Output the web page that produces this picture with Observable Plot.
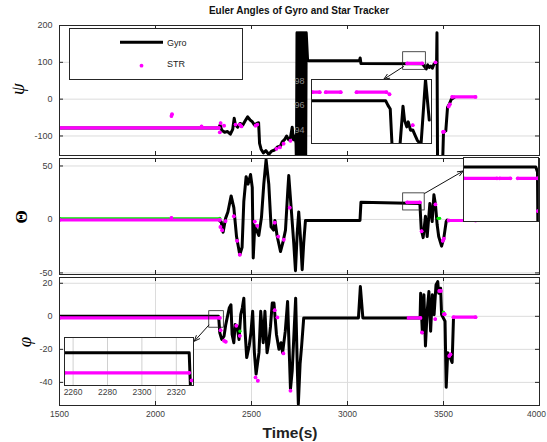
<!DOCTYPE html>
<html><head><meta charset="utf-8">
<script src="https://cdn.jsdelivr.net/npm/d3@7"></script>
<script src="https://cdn.jsdelivr.net/npm/@observablehq/plot@0.6"></script>
<style>
body{margin:0;background:#fff;}
#root{position:relative;width:547px;height:442px;overflow:hidden;font-family:"Liberation Sans",Arial,sans-serif;background:#fff;}
.ylab{position:absolute;transform:translate(-50%,-50%) rotate(-90deg);white-space:nowrap;color:#000;}
</style></head><body><div id="root"></div>
<script>
// ---------- axes ticks ----------
const xTicks = [1500, 2000, 2500, 3000, 3500, 4000];
const psiTicks = [200, 100, 0, -100];
const thetaTicks = [50, 0, -50];
const phiTicks = [20, 0, -20, -40];
const psiInsetTicks = [98, 96, 94];
const phiInsetTicks = [2260, 2280, 2300, 2320];

// ---------- psi (yaw) ----------
const psiGyroT = [1500, 2330, 2336, 2345, 2360, 2375, 2390, 2402, 2410, 2416, 2428, 2440, 2455, 2468, 2480, 2492, 2505, 2515, 2527, 2537, 2542, 2550, 2562, 2575, 2590, 2605, 2620, 2635, 2650, 2660, 2672, 2683, 2693, 2703, 2712, 2718, 2726, 2732,
  2734, 2737, 2740, 2743, 2746, 2749, 2752, 2755, 2758, 2761, 2764, 2767, 2770, 2773, 2776, 2779, 2782, 2785,
  2792, 2800, 3062, 3066, 3070, 3390, 3396, 3402, 3410, 3418, 3426, 3434, 3442, 3450, 3458, 3464, 3466, 3469, 3495, 3500, 3512, 3521, 3530, 3540, 3557];
const psiGyroV = [-78, -78, -70, -84, -90, -88, -95, -82, -52, -70, -76, -66, -70, -58, -48, -56, -62, -70, -66, -64, -120, -136, -146, -140, -150, -141, -138, -130, -128, -116, -110, -100, -110, -104, -76, -110, -100, -120,
  -180, 180, -180, 180, -180, 180, -180, 180, -180, 180, -180, 180, -180, 180, -180, 180, -180, 180,
  106, 104, 104, 112, 97, 96, 92, 88, 82, 93, 86, 90, 84, 95, 98, 100, 180, -180, -180, -90, -86, -22, -14, -1, 5];
const psiStrT = [1500, 2330, 2083, 2086, 2240, 2335, 2339, 2357, 2417, 2439, 2448, 2521, 2530, 2630, 2648, 2667, 2703, 3311, 3389, 3458, 3498, 3502, 3527, 3533, 3545, 3667];
const psiStrV = [-78, -78, -46, -41, -74, -90, -65, -72, -69, -69, -74, -72, -69, -135, -131, -121, -113, 97, 97, 100, -89, -88, -20, -14, 6, 6];
const psiStrRun = [0, 0, 1, 2, 3, 4, 5, 6, 7, 8, 9, 10, 11, 12, 13, 14, 15, 16, 16, 17, 18, 19, 20, 21, 22, 22];

// ---------- theta (pitch) ----------
const thetaGyroT = [1500, 2330, 2335, 2342, 2352, 2365, 2377, 2394, 2408, 2422, 2439, 2451, 2460, 2472, 2482, 2495, 2504, 2509, 2517, 2538, 2552, 2564, 2576, 2590, 2602, 2615, 2622, 2633, 2651, 2663, 2677, 2689, 2694, 2707, 2720, 2729, 2738, 2746, 2755, 2764, 2772, 2781,
  3065, 3070, 3377, 3384, 3394, 3406, 3415, 3429, 3441, 3450, 3458, 3467, 3475, 3490, 3502, 3514, 3519];
const thetaGyroV = [0, 0, -1.5, -2, -12, 1, 7, 22, 11, -16, -33, -26, 17, 40, 33, 42, 30, -36, -6, -15, 2, 33, 56, 33, -7, -10, -1, -15, -30, -22, -10, 27, 41, 10, -22, -48, -13, 7, -17, -47, -22, -1,
  -1, 16, 15, -9, -17, 3, -16, 15, -2, 23, 14, -5, -16, -25, -17, -2, -0.5];
const thetaStrT = [1500, 2335, 2083, 2338, 2347, 2365, 2408, 2425, 2439, 2517, 2530, 2621, 2639, 2668, 2699, 3311, 3377, 3386, 3458, 3496, 3502, 3527, 3667];
const thetaStrV = [-0.5, -0.5, 1.5, -7, -10, -1.5, 3, -20, -33, -2, -6, -3, -16, -19, 11, 16, 16, -11, 14, -20, -18, -1, -1];
const thetaStrRun = [0, 0, 1, 2, 3, 4, 5, 6, 7, 8, 9, 10, 11, 12, 13, 14, 14, 15, 16, 17, 18, 19, 19];
const thetaGreenT = [1500, 2335, 3472, 3480];
const thetaGreenV = [1.1, 1.1, 1, 1];
const thetaGreenRun = [0, 0, 1, 1];

// ---------- phi (roll) ----------
const phiGyroT = [1500, 2328, 2330, 2335, 2345, 2357, 2366, 2384, 2393, 2399, 2408, 2415, 2425, 2435, 2444, 2452, 2460, 2466, 2475, 2488, 2497, 2506, 2515, 2524, 2539, 2548, 2561, 2570, 2581, 2590, 2599, 2608, 2617, 2630, 2643, 2654, 2662, 2676, 2688, 2695, 2703, 2712, 2721, 2730, 2739, 2744, 2753, 2761, 2772,
  3057, 3067, 3080, 3378, 3381, 3390, 3398, 3406, 3415, 3424, 3433, 3442, 3451, 3461, 3470, 3475, 3485, 3490, 3508, 3514, 3522, 3535, 3545, 3552];
const phiGyroV = [0, 0, -2, -10, -14, -12, -5, 5, 7, -11, -16, -5, -6, -14, 1, 5, 11, -8, -25, -18, -10, 3, -22, -35, -22, 3, -16, 3, -22, -16, -6, 8, 8, -11, -20, -16, -22, -9, 9, -16, -44, -33, -11, 11, -33, -53, -29, -18, -1,
  -1, 18, -1, -1, 14, -10, 13, -18, 3, 15, -9, 13, 1, 19, 21, 14, 17, 1, -3, -43, -22, -25, -28, -1];
const phiStrT = [1500, 2335, 2339, 2357, 2366, 2421, 2439, 2521, 2533, 2621, 2635, 2666, 2703, 3318, 3380, 3388, 3457, 3478, 3486, 3503, 3506, 3530, 3536, 3552, 3667];
const phiStrV = [-1, -1, -8.4, -14.8, -15.4, -5.7, -11.8, -37, -39, 3.7, -0.7, -22.5, -45, -1, -1, -9.8, -1.7, 15.4, 15.4, 1.3, 1.3, -24, -23, -0.5, -0.5];
const phiStrRun = [0, 0, 1, 2, 3, 4, 5, 6, 7, 8, 9, 10, 11, 12, 12, 13, 14, 15, 15, 16, 16, 17, 17, 18, 18];
const phiGreenT = [2440, 3500];
const phiGreenV = [-9, 2.5];
const phiGreenRun = [0, 1];

// ---------- zoom boxes & arrows (data units of the host panel) ----------
const psiBoxT = [3290, 3408], psiBoxV = [79.6, 127.4];
const thetaBoxT = [3290, 3402], thetaBoxV = [8.4, 24.4];
const phiBoxT = [2280, 2356], phiBoxV = [-6.9, 3.1];
const psiArrowT = [3292, 3189], psiArrowV = [88.6, 54];
const thetaArrowT = [3402, 3603], thetaArrowV = [24.4, 45.3];
const phiArrowT = [2278, 2202], phiArrowV = [-5.3, -15.1];

// ---------- insets ----------
const psiInGyroT = [3300, 3399, 3402, 3405, 3408, 3417, 3422, 3424, 3427, 3429, 3432, 3435, 3438, 3441, 3446, 3452, 3457];
const psiInGyroV = [96.37, 96.37, 96.0, 95.7, 92.0, 92.0, 95.93, 94.8, 94.25, 94.66, 93.98, 94.0, 93.58, 93.17, 92.8, 98.1, 94.8];
const psiInStrT = [3301, 3311, 3319, 3339, 3360, 3400, 3404, 3435];
const psiInStrV = [97.07, 97.07, 97.07, 97.07, 97.07, 97.07, 96.9, 94.39];
const psiInStrRun = [0, 0, 1, 1, 2, 2, 3, 4];

const thetaInGyroT = [3290, 3398, 3400.5, 3401];
const thetaInGyroV = [16.4, 16.4, 16.1, 13];
const thetaInStrT = [3290.5, 3340, 3344, 3360, 3371, 3400, 3401];
const thetaInStrV = [15.7, 15.7, 15.7, 15.7, 15.7, 15.7, 13.65];
const thetaInStrRun = [0, 0, 1, 1, 2, 2, 3];

const phiInGyroT = [2255, 2327.5, 2328.3];
const phiInGyroV = [0.36, 0.36, -1.2];
const phiInStrT = [2255, 2327.5, 2328.9];
const phiInStrV = [-0.47, -0.47, -0.79];
const phiInStrRun = [0, 0, 1];

// ---------- helpers ----------
const zip = (T, V, R) => T.map((t, i) => ({t, v: V[i], r: R ? R[i] : 0}));
const MAG = "#ff00ff", GRN = "#00ee00", AX = "#262626", TXT = "#404040";
const fmt = d => String(d);
const FW = 480; // frame width in px (547 - 59 - 8)
const root = document.getElementById("root");
function place(el, left, top) {
  el.style.position = "absolute"; el.style.left = left + "px"; el.style.top = top + "px";
  root.appendChild(el);
}
function seriesMarks(gyro, str, green) {
  const m = [Plot.line(gyro, {x: "t", y: "v", stroke: "black", strokeWidth: 3, clip: true})];
  if (green) m.push(Plot.line(green, {x: "t", y: "v", z: "r", stroke: GRN, strokeWidth: 2, clip: true}),
                    Plot.dot(green, {x: "t", y: "v", r: 1.6, fill: GRN, clip: true}));
  m.push(Plot.line(str, {x: "t", y: "v", z: "r", stroke: MAG, strokeWidth: 3.2, clip: true}),
         Plot.dot(str, {x: "t", y: "v", r: 1.9, fill: MAG, clip: true}));
  return m;
}
function innerTicks(yTicks, frameH) {
  return [
    Plot.tickY(yTicks, {y: d => d, stroke: AX, insetRight: FW - 4}),
    Plot.tickY(yTicks, {y: d => d, stroke: AX, insetLeft: FW - 4}),
    Plot.tickX(xTicks, {x: d => d, stroke: AX, insetTop: frameH - 4}),
    Plot.tickX(xTicks, {x: d => d, stroke: AX, insetBottom: frameH - 4})
  ];
}
function mainPanel({top, frameH, yDomain, yTicks, gridX, gyro, str, green, boxT, boxV, arT, arV, xAxis}) {
  const mb = xAxis ? 30 : 1;
  const marks = [Plot.gridY(yTicks, {stroke: "#dcdcdc", strokeOpacity: 1})];
  if (gridX) marks.push(Plot.gridX(xTicks, {stroke: "#dcdcdc", strokeOpacity: 1}));
  marks.push(...innerTicks(yTicks, frameH));
  marks.push(...seriesMarks(gyro, str, green));
  marks.push(Plot.rect([0], {x1: () => boxT[0], x2: () => boxT[1], y1: () => boxV[0], y2: () => boxV[1], fill: "none", stroke: "#222", strokeWidth: 0.8}));
  marks.push(Plot.arrow([0], {x1: () => arT[0], y1: () => arV[0], x2: () => arT[1], y2: () => arV[1], stroke: "#111", strokeWidth: 1, headLength: 9, headAngle: 45}));
  marks.push(Plot.frame({stroke: AX, strokeWidth: 1}));
  marks.push(Plot.axisY(yTicks, {tickSize: 0, tickPadding: 7, fontSize: 9, fill: TXT, label: null, tickFormat: fmt}));
  if (xAxis) {
    const inner = xTicks.slice(0, -1), last = xTicks.slice(-1);
    marks.push(Plot.axisX(inner, {anchor: "bottom", tickSize: 0, tickPadding: 5, fontSize: 8.5, fill: TXT, label: null, tickFormat: fmt}));
    marks.push(Plot.axisX(last, {anchor: "bottom", tickSize: 0, tickPadding: 5, fontSize: 8.5, fill: TXT, label: null, tickFormat: fmt, dx: -3}));
  }
  const svg = Plot.plot({
    width: 547, height: frameH + 1 + mb, marginLeft: 59, marginRight: 8, marginTop: 1, marginBottom: mb,
    x: {domain: [1500, 4000], axis: null}, y: {domain: yDomain, axis: null},
    style: {overflow: "visible", fontFamily: "Liberation Sans, Arial, sans-serif", background: "transparent"},
    marks
  });
  place(svg, 0, top - 1);
}

// ---------- main panels ----------
mainPanel({top: 25, frameH: 130, yDomain: [-153, 200], yTicks: psiTicks, gridX: false,
  gyro: zip(psiGyroT, psiGyroV), str: zip(psiStrT, psiStrV, psiStrRun),
  boxT: psiBoxT, boxV: psiBoxV, arT: psiArrowT, arV: psiArrowV});
mainPanel({top: 158, frameH: 116, yDomain: [-51.5, 57], yTicks: thetaTicks, gridX: false,
  gyro: zip(thetaGyroT, thetaGyroV), str: zip(thetaStrT, thetaStrV, thetaStrRun), green: zip(thetaGreenT, thetaGreenV, thetaGreenRun),
  boxT: thetaBoxT, boxV: thetaBoxV, arT: thetaArrowT, arV: thetaArrowV});
mainPanel({top: 277, frameH: 128, yDomain: [-54, 23.5], yTicks: phiTicks, gridX: true,
  gyro: zip(phiGyroT, phiGyroV), str: zip(phiStrT, phiStrV, phiStrRun), green: zip(phiGreenT, phiGreenV, phiGreenRun),
  boxT: phiBoxT, boxV: phiBoxV, arT: phiArrowT, arV: phiArrowV, xAxis: true});

// ---------- insets ----------
function inset({left, top, w, h, ml, xDomain, yDomain, gyro, str, yTicks, xTicksIn}) {
  const marks = [Plot.frame({fill: "white", stroke: "none"})];
  if (xTicksIn) marks.push(Plot.gridX(xTicksIn, {stroke: "#d0d0d0", strokeOpacity: 1}));
  marks.push(...seriesMarks(gyro, str));
  marks.push(Plot.frame({stroke: AX, strokeWidth: 1}));
  if (yTicks) marks.push(Plot.axisY(yTicks, {tickSize: 0, tickPadding: 7, fontSize: 9, fill: "#8a8a8a", label: null, tickFormat: fmt}));
  if (xTicksIn) marks.push(Plot.axisX(xTicksIn, {anchor: "bottom", tickSize: 0, tickPadding: 3, fontSize: 8.5, fill: TXT, label: null, tickFormat: fmt}));
  const svg = Plot.plot({
    width: w + ml + 1, height: h + 2, marginLeft: ml, marginRight: 1, marginTop: 1, marginBottom: 1,
    x: {domain: xDomain, axis: null}, y: {domain: yDomain, axis: null},
    style: {overflow: "visible", fontFamily: "Liberation Sans, Arial, sans-serif", background: "transparent"},
    marks
  });
  place(svg, left - ml, top - 1);
}
inset({left: 311, top: 79, w: 120, h: 64, ml: 16, xDomain: [3300, 3460], yDomain: [92.9, 98.1],
  gyro: zip(psiInGyroT, psiInGyroV), str: zip(psiInStrT, psiInStrV, psiInStrRun), yTicks: psiInsetTicks});
inset({left: 463, top: 157, w: 75, h: 64, ml: 1, xDomain: [3290, 3402], yDomain: [13, 17],
  gyro: zip(thetaInGyroT, thetaInGyroV), str: zip(thetaInStrT, thetaInStrV, thetaInStrRun)});
inset({left: 64, top: 337, w: 129, h: 48, ml: 1, xDomain: [2255, 2330], yDomain: [-1, 1],
  gyro: zip(phiInGyroT, phiInGyroV), str: zip(phiInStrT, phiInStrV, phiInStrRun), xTicksIn: phiInsetTicks});

// ---------- legend ----------
const leg = document.createElement("div");
leg.innerHTML = `<svg width="174" height="52" style="display:block">
  <rect x="0.5" y="0.5" width="173" height="51" fill="white" stroke="${AX}" stroke-width="1"/>
  <line x1="51" x2="94" y1="14.3" y2="14.3" stroke="black" stroke-width="3"/>
  <circle cx="72.5" cy="37.7" r="1.9" fill="${MAG}"/>
  <text x="98" y="17.5" font-size="9" fill="#222" font-family="Liberation Sans, Arial, sans-serif">Gyro</text>
  <text x="98" y="39" font-size="9" fill="#222" font-family="Liberation Sans, Arial, sans-serif">STR</text></svg>`;
place(leg, 69, 28);

// ---------- texts ----------
function txt(html, css) { const d = document.createElement("div"); d.innerHTML = html; d.style.cssText = css; root.appendChild(d); return d; }
txt("Euler Angles of Gyro and Star Tracker", "position:absolute;left:0;top:5px;width:598px;text-align:center;font:bold 10px 'Liberation Sans',Arial,sans-serif;color:#111;");
txt("Time(s)", "position:absolute;left:190px;top:424px;width:200px;text-align:center;font:bold 15.5px 'Liberation Sans',Arial,sans-serif;color:#222;");
txt("ψ", "left:18px;top:89px;font:italic 19px 'Liberation Serif','DejaVu Serif',serif;").className = "ylab";
txt("Θ", "left:22px;top:217px;font:bold 17px 'Liberation Serif','DejaVu Serif',serif;").className = "ylab";
txt("φ", "left:25px;top:342px;font:italic 19px 'Liberation Serif','DejaVu Serif',serif;").className = "ylab";
</script></body></html>
